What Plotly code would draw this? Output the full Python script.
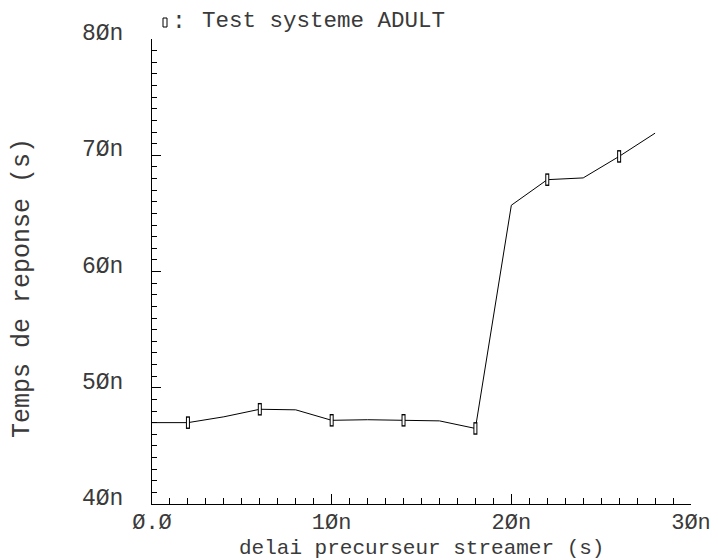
import plotly.graph_objects as go

# Data (seconds)
x_ns = [0, 2, 4, 6, 8, 10, 12, 14, 16, 18, 20, 22, 24, 26, 28]
y_ns = [47.0, 47.0, 47.5, 48.15, 48.1, 47.2, 47.25, 47.2, 47.15, 46.5, 65.7, 67.9, 68.05, 69.9, 71.9]
marker_idx = [1, 3, 5, 7, 9, 11, 13]

x_vals = [v * 1e-9 for v in x_ns]
y_vals = [v * 1e-9 for v in y_ns]
mx = [x_vals[i] for i in marker_idx]
my = [y_vals[i] for i in marker_idx]

x_tickvals = [0, 10e-9, 20e-9, 30e-9]
x_ticktext = ["Ø.Ø", "1Øn", "2Øn", "3Øn"]
y_tickvals = [40e-9, 50e-9, 60e-9, 70e-9, 80e-9]
y_ticktext = ["4Øn", "5Øn", "6Øn", "7Øn", "8Øn"]

FONT = "Liberation Mono"
TXT = "#3a3a3a"

# page has an 8px body margin: figure 710x552 placed at (8, 8)
OFF = 8
PL, PR, PT, PB = 152, 691, 39, 504   # plot area in window pixels
PW, PH = PR - PL, PB - PT


def px(xw):
    return (xw - PL) / PW


def py(yw):
    return (PB - yw) / PH


fig = go.Figure()
fig.add_trace(go.Scatter(x=x_vals, y=y_vals, mode="lines",
                         line=dict(color="black", width=1),
                         showlegend=False, hoverinfo="skip"))
# hollow tall rectangle markers: black bar + white inner bar
fig.add_trace(go.Scatter(x=mx, y=my, mode="markers",
                         marker=dict(symbol="line-ns", size=9,
                                     line=dict(color="black", width=4)),
                         showlegend=False, hoverinfo="skip"))
fig.add_trace(go.Scatter(x=mx, y=my, mode="markers",
                         marker=dict(symbol="line-ns", size=7,
                                     line=dict(color="white", width=2)),
                         showlegend=False, hoverinfo="skip"))

W, H = 718 - OFF, 560 - OFF
fig.update_layout(
    width=W, height=H,
    margin=dict(l=PL - OFF, r=W - (PR - OFF), t=PT - OFF, b=H - (PB - OFF)),
    paper_bgcolor="white", plot_bgcolor="white",
    font=dict(family=FONT, size=21, color=TXT),
    xaxis=dict(range=[0, 30e-9], tickvals=x_tickvals, ticktext=x_ticktext,
               automargin=False,
               showgrid=False, zeroline=False, showline=True, linecolor="black", linewidth=1,
               ticks="inside", ticklen=10, tickcolor="black", tickwidth=1,
               minor=dict(dtick=1e-9, ticks="inside", ticklen=6, tickcolor="black", tickwidth=1),
               tickfont=dict(family=FONT, size=22, color=TXT), ticklabelstandoff=-2),
    yaxis=dict(range=[40e-9, 80e-9], tickvals=y_tickvals, ticktext=y_ticktext,
               automargin=False,
               showgrid=False, zeroline=False, showline=True, linecolor="black", linewidth=1,
               ticks="inside", ticklen=9, tickcolor="black", tickwidth=1,
               minor=dict(dtick=1e-9, ticks="inside", ticklen=5, tickcolor="black", tickwidth=1),
               tickfont=dict(family=FONT, size=23, color=TXT), ticklabelstandoff=23,
               ticklabelshift=-7),
    shapes=[
        dict(type="rect", xref="paper", yref="paper",
             x0=px(163), x1=px(167), y0=py(27), y1=py(18),
             line=dict(color="black", width=1), fillcolor="white"),
    ],
    annotations=[
        dict(text="delai precurseur streamer (s)", xref="paper", yref="paper",
             x=0.5, y=py(548), xanchor="center", yanchor="middle", showarrow=False,
             font=dict(family=FONT, size=21, color=TXT)),
        dict(text="Temps de reponse (s)", xref="paper", yref="paper",
             x=px(22), y=py(288), xanchor="center", yanchor="middle",
             showarrow=False, textangle=-90, font=dict(family=FONT, size=25, color=TXT)),
        dict(text=":", xref="paper", yref="paper",
             x=px(179), y=py(22), xanchor="center", yanchor="middle",
             showarrow=False, font=dict(family=FONT, size=23, color=TXT)),
        dict(text="Test systeme ADULT", xref="paper", yref="paper",
             x=px(200), y=py(21), xanchor="left", yanchor="middle",
             showarrow=False, font=dict(family=FONT, size=22.5, color=TXT)),
    ],
)

fig.write_html("out.html")
